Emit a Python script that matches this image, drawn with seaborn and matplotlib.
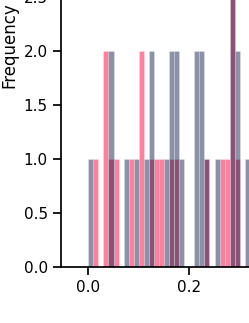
import numpy as np
import pandas as pd
import seaborn as sns
import matplotlib
matplotlib.use("Agg")
from matplotlib import pyplot as plt

# histogram counts, bins of width 0.01 starting at 0
bin_centers = np.round(np.arange(0.005, 0.32, 0.01), 3)
pink_counts = [0, 1, 0, 2, 1, 1, 0, 0, 1, 0, 2, 0, 1, 1, 1, 0,
               1, 1, 0, 0, 0, 0, 0, 1, 0, 0, 1, 1, 3, 1, 0, 0]
gray_counts = [1, 0, 0, 0, 2, 0, 0, 1, 0, 1, 0, 1, 2, 0, 0, 1,
               2, 2, 1, 0, 0, 2, 2, 1, 0, 1, 0, 0, 3, 2, 0, 1]

df = pd.DataFrame({"value": bin_centers, "pink": pink_counts, "gray": gray_counts})

sns.set_theme(style="ticks", rc={"text.color": "black", "axes.labelcolor": "black",
                                 "axes.edgecolor": "black", "xtick.color": "black",
                                 "ytick.color": "black"})

fig = plt.figure(figsize=(2.49, 3.23), dpi=100)
# the reference is a crop of a bigger plot, so the axes run past the figure edge
xlim = (-0.054, 0.5)
ylim = (0, 4.1)
px_x, px_y = 505, 108
left, bottom = 61 / 249, 56 / 323
w = (xlim[1] - xlim[0]) * px_x / 249
h = (ylim[1] - ylim[0]) * px_y / 323
ax = fig.add_axes([left, bottom, w, h])

edge = (1, 1, 1, 0.35)
sns.histplot(data=df, x="value", weights="pink", binwidth=0.01, binrange=(0, 0.32),
             color="#ff0040", alpha=0.5, linewidth=0.5, edgecolor=edge, ax=ax)
sns.histplot(data=df, x="value", weights="gray", binwidth=0.01, binrange=(0, 0.32),
             color="#192751", alpha=0.5, linewidth=0.5, edgecolor=edge, ax=ax)

ax.set_xlim(*xlim)
ax.set_ylim(*ylim)
ax.set_xticks([0.0, 0.2, 0.4])
ax.set_yticks(np.arange(0, 4.1, 0.5))
ax.set_ylabel("Frequency")
ax.set_xlabel("")

fig.savefig("out.png", dpi=100)
